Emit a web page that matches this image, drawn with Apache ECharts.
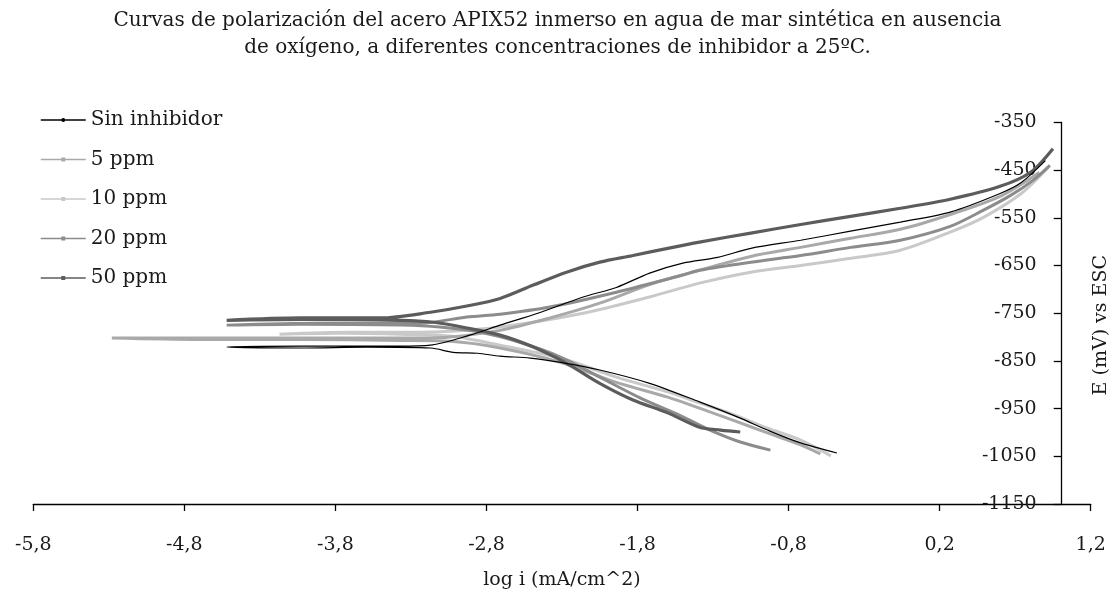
<!DOCTYPE html>
<html>
<head>
<meta charset="utf-8">
<script src="https://cdn.jsdelivr.net/npm/echarts@6/dist/echarts.min.js"></script>
<style>
html,body{margin:0;padding:0;background:#fff;}
#chart{width:1115px;height:604px;}
</style>
</head>
<body>
<div id="chart"></div>
<script>
// ---- data (log i, E mV) ----
const seriesNames = ['Sin inhibidor', '5 ppm', '10 ppm', '20 ppm', '50 ppm'];
const xTicks = [-5.8, -4.8, -3.8, -2.8, -1.8, -0.8, 0.2, 1.2];
const yTicks = [-1150, -1050, -950, -850, -750, -650, -550, -450, -350];

const sinInhibidor = [
  [-0.48,-1043],[-0.72,-1022],[-0.94,-995],[-1.12,-970],[-1.39,-936],[-1.72,-897],[-2.05,-869],[-2.31,-853],
  [-2.51,-844],[-2.71,-840],[-2.86,-834],[-3.02,-832],[-3.17,-823],[-3.59,-821],[-4.03,-823],[-4.52,-821],
  [-4.03,-819],[-3.37,-819],[-3.17,-817],[-2.91,-796],[-2.71,-775],[-2.46,-750],[-2.16,-716],[-1.94,-696],
  [-1.72,-666],[-1.50,-645],[-1.27,-633],[-1.05,-614],[-0.72,-597],[-0.39,-578],[-0.06,-559],[0.27,-538],
  [0.60,-499],[0.74,-476],[0.90,-430]
];
const ppm5 = [
  [-0.59,-1045],[-0.72,-1026],[-0.94,-1001],[-1.17,-974],[-1.39,-949],[-1.60,-926],[-1.94,-895],[-2.31,-853],
  [-2.71,-823],[-3.04,-809],[-3.37,-807],[-4.03,-805],[-4.70,-805],[-5.28,-802],[-4.37,-802],[-3.24,-802],
  [-3.04,-800],[-2.71,-786],[-2.38,-760],[-2.05,-729],[-1.72,-690],[-1.39,-660],[-1.05,-631],[-0.72,-612],
  [-0.39,-593],[-0.06,-574],[0.27,-543],[0.60,-505],[0.86,-455]
];
const ppm10 = [
  [-0.52,-1049],[-0.72,-1016],[-0.94,-991],[-1.17,-962],[-1.39,-938],[-1.60,-915],[-1.94,-884],[-2.31,-844],
  [-2.71,-817],[-3.04,-798],[-3.37,-794],[-3.77,-792],[-4.17,-794],[-3.70,-790],[-3.24,-790],[-3.04,-788],
  [-2.71,-779],[-2.16,-750],[-1.72,-716],[-1.39,-687],[-1.05,-664],[-0.72,-650],[-0.39,-635],[-0.06,-618],
  [0.27,-580],[0.49,-549],[0.74,-499],[0.92,-444]
];
const ppm20 = [
  [-0.92,-1037],[-1.12,-1020],[-1.32,-995],[-1.52,-964],[-1.78,-928],[-2.05,-884],[-2.31,-842],[-2.58,-811],
  [-2.84,-790],[-3.11,-779],[-3.37,-775],[-4.03,-773],[-4.52,-775],[-3.90,-771],[-3.24,-771],[-2.93,-758],
  [-2.71,-752],[-2.38,-737],[-1.94,-706],[-1.50,-670],[-1.39,-660],[-1.05,-643],[-0.72,-629],[-0.39,-612],
  [-0.06,-597],[0.27,-568],[0.49,-534],[0.67,-503],[0.82,-471],[0.93,-440]
];
const ppm50 = [
  [-1.12,-999],[-1.25,-995],[-1.39,-989],[-1.60,-959],[-1.83,-932],[-2.05,-897],[-2.27,-855],[-2.49,-821],
  [-2.71,-796],[-2.93,-781],[-3.15,-769],[-3.37,-765],[-4.03,-763],[-4.52,-765],[-4.03,-760],[-3.50,-760],
  [-3.17,-748],[-2.93,-735],[-2.71,-719],[-2.49,-691],[-2.27,-664],[-2.05,-643],[-1.83,-629],[-1.60,-614],
  [-1.39,-601],[-1.05,-582],[-0.72,-564],[-0.39,-547],[-0.06,-530],[0.27,-511],[0.60,-484],[0.80,-455],
  [0.95,-405]
];

const titleText = 'Curvas de polarización del acero APIX52 inmerso en agua de mar sintética en ausencia\nde oxígeno, a diferentes concentraciones de inhibidor a 25ºC.';
const xName = 'log i (mA/cm^2)';
const yName = 'E (mV) vs ESC';

// ---- styling ----
const FONT = 'DejaVu Serif';
const TXT = '#1a1a1a';
const colors = ['#000000', '#a9a9a9', '#c9c9c9', '#8c8c8c', '#5c5c5c'];
const widths = [1.2, 3, 3, 3, 3.2];
const zs = [6, 3, 2, 4, 5];
const datasets = [sinInhibidor, ppm5, ppm10, ppm20, ppm50];

const chart = echarts.init(document.getElementById('chart'), null, {renderer: 'canvas'});
const comma = v => (Math.round(v * 10) / 10).toFixed(1).replace('.', ',');

const option = {
  animation: false,
  backgroundColor: '#ffffff',
  title: {
    text: titleText,
    left: 'center',
    top: 2,
    textStyle: {fontFamily: FONT, fontSize: 20, fontWeight: 'normal', color: TXT, lineHeight: 27}
  },
  legend: {
    orient: 'vertical',
    left: 35,
    top: 104,
    itemWidth: 45,
    itemHeight: 5,
    itemGap: 17.5,
    data: seriesNames,
    lineStyle: {width: 1.5},
    textStyle: {fontFamily: FONT, fontSize: 20, color: TXT, lineHeight: 22}
  },
  grid: [
    {left: 33.3, right: 24.3, top: 122.4, bottom: 100, containLabel: false, outerBoundsMode: 'none'},
    {left: 33.3, right: 53.3, top: 122.4, bottom: 100, containLabel: false, outerBoundsMode: 'none'}
  ],
  xAxis: [
    {
      type: 'value', gridIndex: 0,
      min: xTicks[0], max: xTicks[xTicks.length - 1], interval: 1,
      name: xName, nameLocation: 'middle', nameGap: 67,
      nameTextStyle: {fontFamily: FONT, fontSize: 19, color: TXT},
      axisLine: {show: true, onZero: false, lineStyle: {color: '#000', width: 1.3}},
      axisTick: {show: true, length: 7, lineStyle: {color: '#000', width: 1.3}},
      axisLabel: {fontFamily: FONT, fontSize: 19, color: TXT, margin: 32, formatter: comma},
      splitLine: {show: false}
    },
    {
      type: 'value', gridIndex: 1, show: false, min: xTicks[0], max: 1.0
    }
  ],
  yAxis: [
    {
      type: 'value', gridIndex: 0, show: false,
      min: yTicks[0], max: yTicks[yTicks.length - 1]
    },
    {
      type: 'value', gridIndex: 1, position: 'right',
      min: yTicks[0], max: yTicks[yTicks.length - 1], interval: 100,
      name: yName, nameLocation: 'middle', nameGap: 30, nameRotate: 90,
      nameTextStyle: {fontFamily: FONT, fontSize: 19, color: TXT, padding: [0, 24, 0, 0]},
      axisLine: {show: true, onZero: false, lineStyle: {color: '#000', width: 1.3}},
      axisTick: {show: true, inside: true, length: 8, lineStyle: {color: '#000', width: 1.3}},
      axisLabel: {inside: true, fontFamily: FONT, fontSize: 19, color: TXT, margin: 25, formatter: v => String(v)},
      splitLine: {show: false}
    }
  ],
  series: datasets.map((d, i) => ({
    name: seriesNames[i],
    type: 'line',
    xAxisIndex: 0,
    yAxisIndex: 0,
    data: d,
    z: zs[i],
    smooth: 0.3,
    showSymbol: false,
    symbol: i === 0 ? 'none' : 'rect',
    symbolSize: [6, 3],
    itemStyle: {color: colors[i]},
    lineStyle: {color: colors[i], width: widths[i]},
    emphasis: {disabled: true}
  }))
};
chart.setOption(option);
</script>
</body>
</html>
